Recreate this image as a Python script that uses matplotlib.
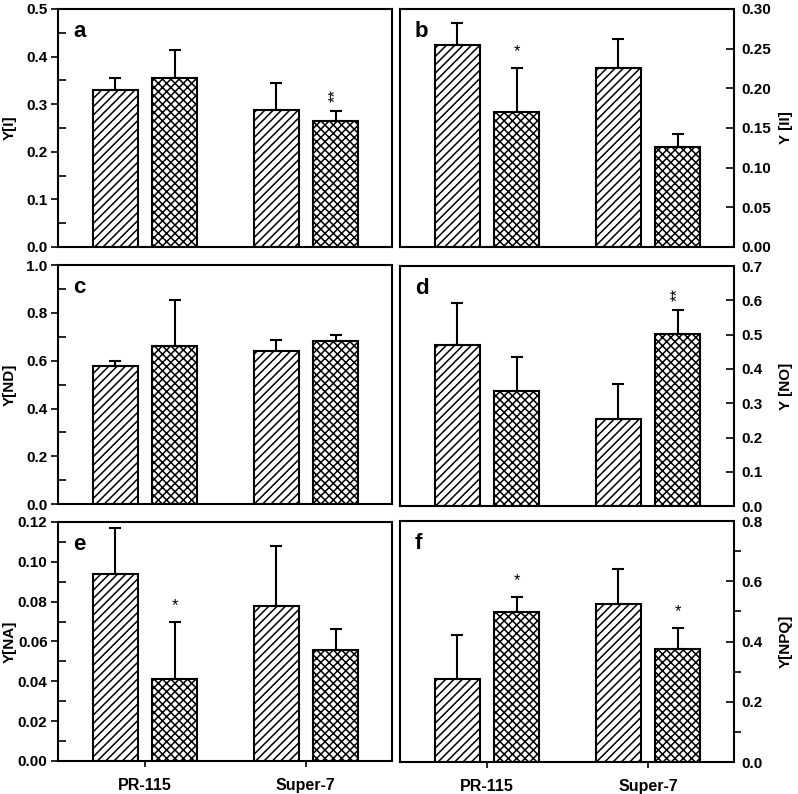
import matplotlib
matplotlib.use('Agg')

import matplotlib.pyplot as plt
from matplotlib.ticker import MultipleLocator, FormatStrFormatter

plt.rcParams['font.family'] = ['Liberation Sans', 'DejaVu Sans']
plt.rcParams['font.weight'] = 'bold'
plt.rcParams['hatch.linewidth'] = 1.1

cultivars = ["PR-115", "Super-7"]

# bar order in each panel: PR-115 ctrl, PR-115 treat, Super-7 ctrl, Super-7 treat
y_I = [0.329, 0.354, 0.287, 0.265]
err_I = [0.026, 0.059, 0.057, 0.021]
y_II = [0.2545, 0.170, 0.226, 0.126]
err_II = [0.0275, 0.056, 0.036, 0.017]
y_ND = [0.580, 0.662, 0.641, 0.684]
err_ND = [0.019, 0.191, 0.044, 0.022]
y_NO = [0.471, 0.335, 0.253, 0.501]
err_NO = [0.123, 0.099, 0.104, 0.072]
y_NA = [0.094, 0.0412, 0.0777, 0.0557]
err_NA = [0.023, 0.0286, 0.030, 0.0106]
y_NPQ = [0.277, 0.498, 0.523, 0.376]
err_NPQ = [0.145, 0.050, 0.117, 0.069]

# significance marks: (bar index, text)
stars_I = [(3, "**")]
stars_II = [(1, "*")]
stars_ND = []
stars_NO = [(3, "**")]
stars_NA = [(1, "*")]
stars_NPQ = [(1, "*"), (3, "*")]

panels = [
    ("a", y_I, err_I, stars_I, "Y[I]", 0.5, 0.1, 0.05, "%.1f", "left"),
    ("b", y_II, err_II, stars_II, "Y [II]", 0.30, 0.05, None, "%.2f", "right"),
    ("c", y_ND, err_ND, stars_ND, "Y[ND]", 1.0, 0.2, 0.1, "%.1f", "left"),
    ("d", y_NO, err_NO, stars_NO, "Y [NO]", 0.7, 0.1, None, "%.1f", "right"),
    ("e", y_NA, err_NA, stars_NA, "Y[NA]", 0.12, 0.02, 0.01, "%.2f", "left"),
    ("f", y_NPQ, err_NPQ, stars_NPQ, "Y[NPQ]", 0.8, 0.2, 0.1, "%.1f", "right"),
]

rects = [
    [0.0727, 0.689, 0.4185, 0.2997],
    [0.5013, 0.689, 0.4185, 0.2997],
    [0.0727, 0.365, 0.4185, 0.301],
    [0.5013, 0.3627, 0.4185, 0.302],
    [0.0727, 0.0416, 0.4185, 0.301],
    [0.5013, 0.0403, 0.4185, 0.3035],
]

fig = plt.figure(figsize=(7.98, 7.94), dpi=100)

offset = 0.185
width = 0.28
xpos = [0 - offset, 0 + offset, 1 - offset, 1 + offset]
hatches = ["////", "xxxx", "////", "xxxx"]

for i, (letter, vals, errs, stars, ylab, ymax, major, minor, fmt, side) in enumerate(panels):
    ax = fig.add_axes(rects[i])
    for x, v, e, h in zip(xpos, vals, errs, hatches):
        ax.bar(x, v, width=width, color="white", edgecolor="black",
               linewidth=1.5, hatch=h, zorder=2)
        ax.errorbar(x, v, yerr=[[0], [e]], fmt="none", ecolor="black",
                    elinewidth=1.5, capsize=4, capthick=1.5, zorder=3)
    for idx, s in stars:
        top = vals[idx] + errs[idx]
        ax.text(xpos[idx], top + ymax * 0.035, s, ha="center", va="bottom",
                fontsize=12, fontweight="normal",
                rotation=90 if len(s) == 2 else 0)

    ax.set_xlim(-0.54, 1.535)
    ax.set_ylim(0, ymax)
    ax.yaxis.set_major_locator(MultipleLocator(major))
    ax.yaxis.set_major_formatter(FormatStrFormatter(fmt))
    if minor:
        ax.yaxis.set_minor_locator(MultipleLocator(minor))
    for sp in ax.spines.values():
        sp.set_linewidth(1.5)

    if side == "right":
        ax.yaxis.tick_right()
        ax.yaxis.set_label_position("right")
        ax.tick_params(axis="y", which="major", direction="in", length=6, width=1.2,
                       labelsize=11, pad=5.5)
        ax.tick_params(axis="y", which="minor", direction="out", length=5, width=1.2)
        ax.set_ylabel(ylab, fontsize=11, fontweight="bold", rotation=90)
        ax.yaxis.set_label_coords(1.135, 0.5)
    else:
        ax.tick_params(axis="y", which="major", direction="out", length=5, width=1.2,
                       labelsize=11, pad=2.5)
        ax.tick_params(axis="y", which="minor", direction="in", length=6, width=1.2)
        ax.set_ylabel(ylab, fontsize=11, fontweight="bold")
        ax.yaxis.set_label_coords(-0.125, 0.5)

    if i >= 4:
        ax.set_xticks([0, 1])
        ax.set_xticklabels(cultivars, fontsize=11.5, fontweight="bold")
        ax.tick_params(axis="x", direction="out", length=4, width=1.2, pad=8)
    else:
        ax.set_xticks([])

    ax.text(0.045, 0.95, letter, transform=ax.transAxes, ha="left", va="top",
            fontsize=16, fontweight="bold")

fig.savefig("out.png", dpi=100)
